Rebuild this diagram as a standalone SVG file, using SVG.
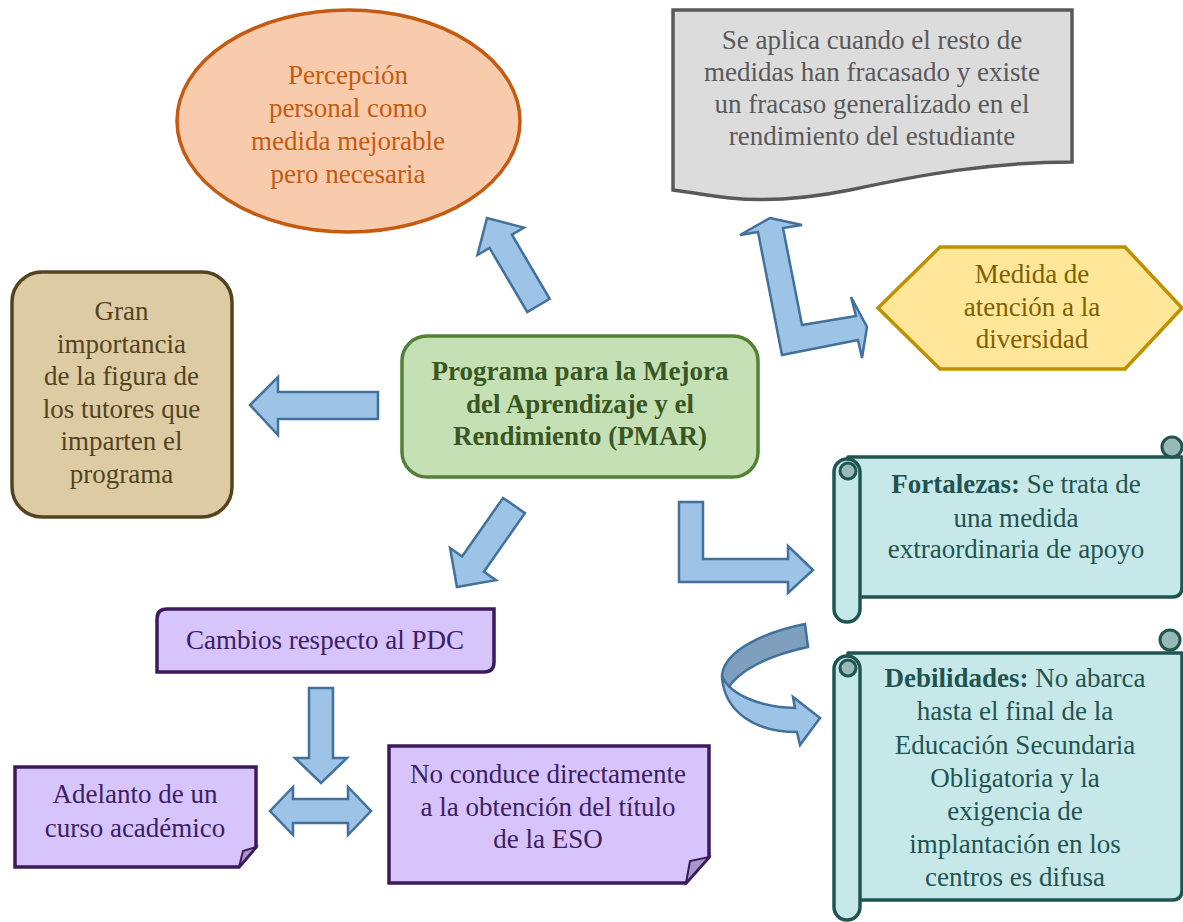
<svg xmlns="http://www.w3.org/2000/svg" width="1183" height="922" viewBox="0 0 1183 922">
<defs>
<style>
text{font-family:"Liberation Serif","Times New Roman",serif;font-size:27px;text-anchor:middle}
.arr{fill:#9DC3E6;stroke:#41719C;stroke-width:2.5;stroke-linejoin:miter}
.pur{fill:#D6C4FA;stroke:#3E1A5C;stroke-width:3.5}
.purt{fill:#3C1D66}
.scr{fill:#C6E8E9;stroke:#1F5450;stroke-width:3.5;stroke-linejoin:round}
.scrin{fill:#98B9B6;stroke:#1F5450;stroke-width:3}
.scrt{fill:#1F5450}
</style>
</defs>
<rect width="1183" height="922" fill="#FFFFFF"/>

<g id="connectors">
<path class="arr" d="M378,392 H278 V377 L250,405 L278,435 V419 H378 Z"/>
<path class="arr" transform="translate(538.5,305.5) rotate(-120.5)" d="M0,-13 H74.5 V-27 L101.5,0 L74.5,27 V13 H0 Z"/>
<path class="arr" transform="translate(514,505.5) rotate(125)" d="M0,-13.3 H71.5 V-28 L99.5,0 L71.5,28 V13.3 H0 Z"/>
<path class="arr" d="M770,218 L802,225 L783,228 L802,325 L856,316 L851,297 L867,327 L862,358 L858,340 L782,355 L758,232 L740,235 Z"/>
<path class="arr" d="M679,502 H703 V559 H788 V546 L813,570 L788,593 V582 H679 Z"/>
<path class="arr" d="M309,688 H333 V758 H347 L321,783 L295,758 H309 Z"/>
<path class="arr" d="M270,811 L293,787 V799 H348 V787 L371,811 L348,835 V823 H293 V835 Z"/>
<path fill="#7F9FBF" stroke="#41719C" stroke-width="2.5" d="M805,624 C765,632 725,650 722,675 C722,682 724,687 727,690 C738,670 770,655 808,647 Z"/>
<path class="arr" d="M722,676 C730,695 760,707 795,708 L793,697 L820,718 L800,745 L797,732 C755,732 724,712 722,676 Z"/>
</g>

<g id="node-percepcion">
<ellipse cx="348.5" cy="121" rx="171.5" ry="111" fill="#F8CBAD" stroke="#C55A11" stroke-width="3.5"/>
<text fill="#C55A11"><tspan x="348" y="84">Percepción</tspan><tspan x="348" y="117">personal como</tspan><tspan x="348" y="150">medida mejorable</tspan><tspan x="348" y="183">pero necesaria</tspan></text>
</g>

<g id="node-aplica">
<path d="M673,10 H1072 V162 C990,162 920,175 850,190 C810,198 770,202 730,198 C705,195 688,192 673,190 Z" fill="#DCDCDC" stroke="#595959" stroke-width="3.5"/>
<text fill="#595959"><tspan x="872" y="49">Se aplica cuando el resto de</tspan><tspan x="872" y="81">medidas han fracasado y existe</tspan><tspan x="872" y="113">un fracaso generalizado en el</tspan><tspan x="872" y="145">rendimiento del estudiante</tspan></text>
</g>

<g id="node-diversidad">
<polygon points="878,308 940,247 1125,247 1182,308 1125,369 940,369" fill="#FFE699" stroke="#BF9000" stroke-width="3.5"/>
<text fill="#7F6000"><tspan x="1032" y="283">Medida de</tspan><tspan x="1032" y="316">atención a la</tspan><tspan x="1032" y="348">diversidad</tspan></text>
</g>

<g id="node-tutores">
<rect x="12" y="272" width="220" height="245" rx="30" fill="#DDCBA4" stroke="#54431F" stroke-width="3.5"/>
<text fill="#54431F"><tspan x="121.5" y="320">Gran</tspan><tspan x="121.5" y="352.5">importancia</tspan><tspan x="121.5" y="385">de la figura de</tspan><tspan x="121.5" y="417.5">los tutores que</tspan><tspan x="121.5" y="450">imparten el</tspan><tspan x="121.5" y="482.5">programa</tspan></text>
</g>

<g id="node-pmar">
<rect x="402" y="336" width="356" height="141" rx="25" fill="#C5E0B4" stroke="#538135" stroke-width="3.5"/>
<text fill="#385723" font-weight="bold"><tspan x="580" y="380">Programa para la Mejora</tspan><tspan x="580" y="413">del Aprendizaje y el</tspan><tspan x="580" y="445">Rendimiento (PMAR)</tspan></text>
</g>

<g id="node-fortalezas">
<path class="scr" d="M848,457 H1182 V587 Q1182,597 1172,597 H848 Z"/>
<circle class="scrin" cx="1172" cy="447" r="10"/>
<rect class="scr" x="834" y="459" width="26" height="163" rx="13"/>
<circle class="scrin" cx="848" cy="471" r="8"/>
<text class="scrt"><tspan x="1016" y="493"><tspan font-weight="bold">Fortalezas:</tspan> Se trata de</tspan><tspan x="1016" y="527">una medida</tspan><tspan x="1016" y="558">extraordinaria de apoyo</tspan></text>
</g>

<g id="node-debilidades">
<path class="scr" d="M848,653 H1182 V890 Q1182,900 1172,900 H848 Z"/>
<circle class="scrin" cx="1170" cy="640" r="10"/>
<rect class="scr" x="834" y="656" width="26" height="264" rx="13"/>
<circle class="scrin" cx="848" cy="668" r="8"/>
<text class="scrt"><tspan x="1015" y="687"><tspan font-weight="bold">Debilidades:</tspan> No abarca</tspan><tspan x="1015" y="720">hasta el final de la</tspan><tspan x="1015" y="754">Educación Secundaria</tspan><tspan x="1015" y="787">Obligatoria y la</tspan><tspan x="1015" y="820">exigencia de</tspan><tspan x="1015" y="853">implantación en los</tspan><tspan x="1015" y="886">centros es difusa</tspan></text>
</g>

<g id="node-cambios">
<path class="pur" d="M167,609 H494 V662 Q494,672 484,672 H157 V619 Q157,609 167,609 Z"/>
<text class="purt" x="325" y="649">Cambios respecto al PDC</text>
</g>

<g id="node-adelanto">
<path class="pur" d="M15,767 H256 V847 L239,867 H15 Z"/>
<path d="M256,847 L239,867 L243,851 Z" fill="#A996CC" stroke="#3E1A5C" stroke-width="2"/>
<text class="purt"><tspan x="135" y="803">Adelanto de un</tspan><tspan x="135" y="837">curso académico</tspan></text>
</g>

<g id="node-noconduce">
<path class="pur" d="M389,746 H709 V857 L686,883 H389 Z"/>
<path d="M709,857 L686,883 L690,861 Z" fill="#A996CC" stroke="#3E1A5C" stroke-width="2"/>
<text class="purt"><tspan x="548" y="783">No conduce directamente</tspan><tspan x="548" y="816">a la obtención del título</tspan><tspan x="548" y="848">de la ESO</tspan></text>
</g>
</svg>
